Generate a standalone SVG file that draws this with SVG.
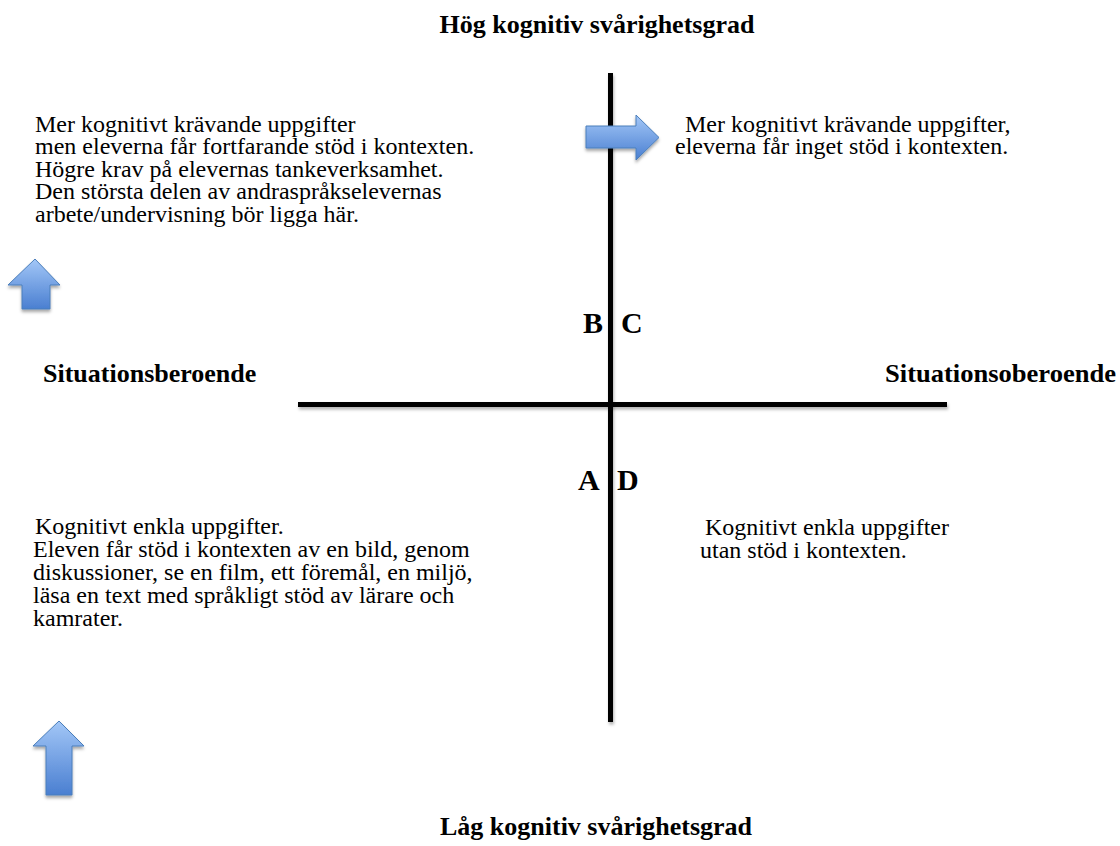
<svg xmlns="http://www.w3.org/2000/svg" width="1120" height="846" viewBox="0 0 1120 846">
<defs>
<linearGradient id="blueV" x1="0" y1="0" x2="0" y2="1">
<stop offset="0" stop-color="#a3c7f7"/>
<stop offset="1" stop-color="#4a7fd1"/>
</linearGradient>
<filter id="sh" x="-30%" y="-30%" width="160%" height="160%">
<feDropShadow dx="0" dy="2.5" stdDeviation="1.8" flood-color="#000" flood-opacity="0.35"/>
</filter>
<filter id="lsh" filterUnits="userSpaceOnUse" x="0" y="0" width="1120" height="846">
<feDropShadow dx="1" dy="2.5" stdDeviation="1.5" flood-color="#000" flood-opacity="0.3"/>
</filter>
<style>
.t{font-family:"Liberation Serif","Times New Roman",serif;font-size:24px;fill:#000}
.h{font-family:"Liberation Serif","Times New Roman",serif;font-size:26px;font-weight:bold;fill:#000}
.q{font-family:"Liberation Serif","Times New Roman",serif;font-size:30px;font-weight:bold;fill:#000}
.ax{fill:#000;filter:url(#lsh)}
.arr{fill:url(#blueV);stroke:#4a7ebb;stroke-width:1;filter:url(#sh)}
</style>
</defs>
<rect width="1120" height="846" fill="#fff"/>

<g id="connectors">
<rect class="ax" x="608" y="73" width="5" height="649"/>
<rect class="ax" x="298" y="402" width="649" height="5"/>
</g>

<g id="arrow-right">
<path class="arr" d="M586,126 H636 V115 L659,137.5 L636,160 V148 H586 Z"/>
</g>
<g id="arrow-up-1">
<path class="arr" d="M35,259 L60,285 H50 V309 H22 V285 H8 Z"/>
</g>
<g id="arrow-up-2">
<path class="arr" d="M59,721 L84,746 H72 V795 H46 V746 H33 Z"/>
</g>

<g id="title-top"><text class="h" x="597" y="33" text-anchor="middle">Hög kognitiv svårighetsgrad</text></g>
<g id="title-bottom"><text class="h" x="596" y="835" text-anchor="middle">Låg kognitiv svårighetsgrad</text></g>
<g id="label-left"><text class="h" x="43" y="382">Situationsberoende</text></g>
<g id="label-right"><text class="h" x="885" y="382" textLength="231" lengthAdjust="spacingAndGlyphs">Situationsoberoende</text></g>

<g id="quad-B"><text class="q" x="583" y="333">B</text></g>
<g id="quad-C"><text class="q" x="621" y="333">C</text></g>
<g id="quad-A"><text class="q" x="578" y="490">A</text></g>
<g id="quad-D"><text class="q" x="617" y="490">D</text></g>

<g id="text-B">
<text class="t" x="35" y="132">Mer kognitivt krävande uppgifter</text>
<text class="t" x="35" y="154">men eleverna får fortfarande stöd i kontexten.</text>
<text class="t" x="35" y="177">Högre krav på elevernas tankeverksamhet.</text>
<text class="t" x="35" y="199">Den största delen av andraspråkselevernas</text>
<text class="t" x="35" y="222">arbete/undervisning bör ligga här.</text>
</g>
<g id="text-C">
<text class="t" x="685" y="132">Mer kognitivt krävande uppgifter,</text>
<text class="t" x="675" y="154">eleverna får inget stöd i kontexten.</text>
</g>
<g id="text-A">
<text class="t" x="35" y="534">Kognitivt enkla uppgifter.</text>
<text class="t" x="33" y="557">Eleven får stöd i kontexten av en bild, genom</text>
<text class="t" x="33" y="580">diskussioner, se en film, ett föremål, en miljö,</text>
<text class="t" x="33" y="603">läsa en text med språkligt stöd av lärare och</text>
<text class="t" x="33" y="626">kamrater.</text>
</g>
<g id="text-D">
<text class="t" x="705" y="535">Kognitivt enkla uppgifter</text>
<text class="t" x="700" y="558">utan stöd i kontexten.</text>
</g>
</svg>
